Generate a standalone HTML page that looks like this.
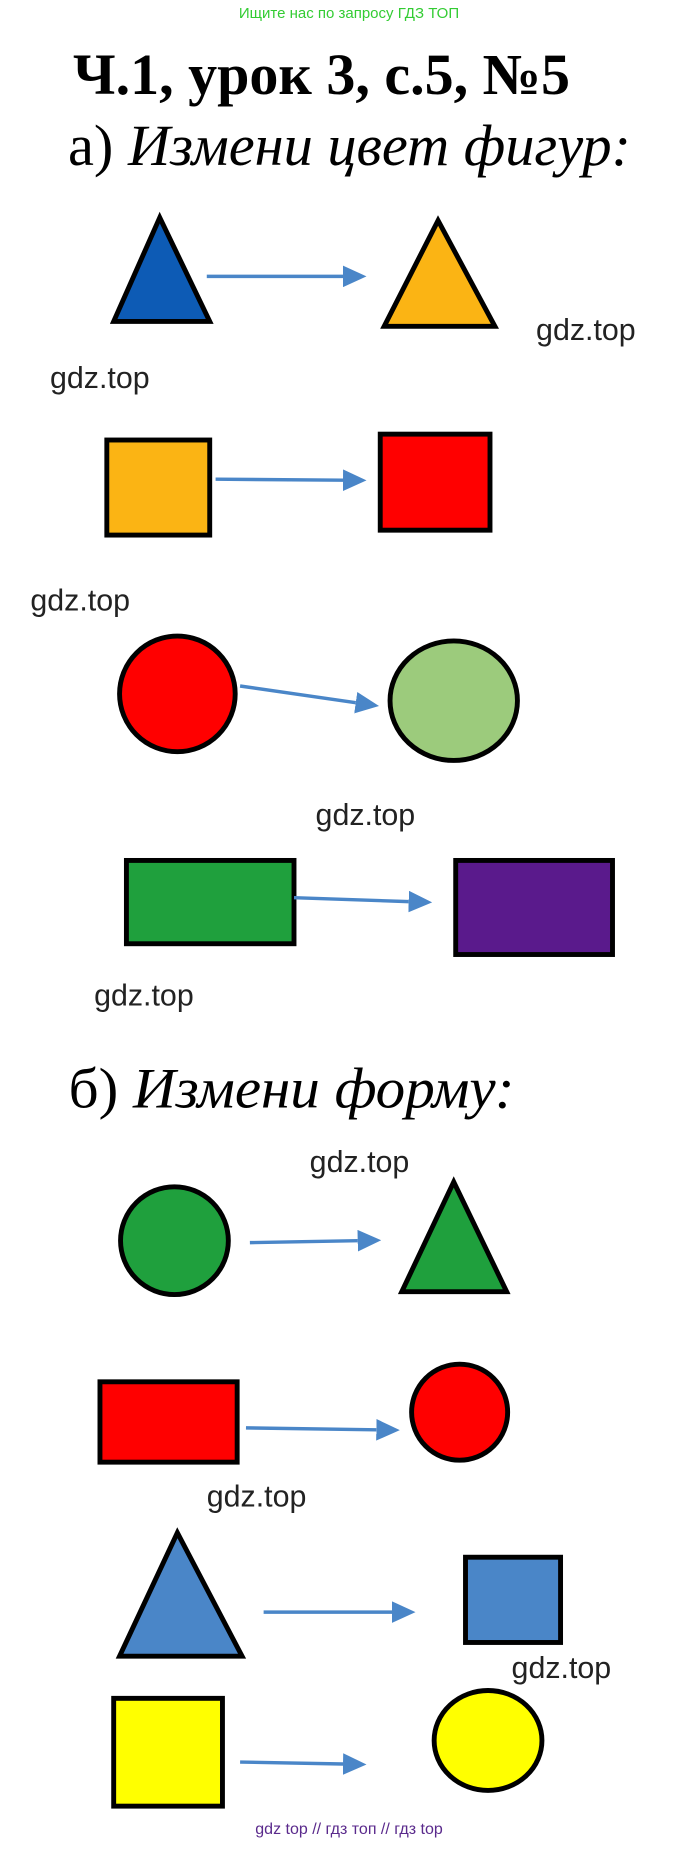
<!DOCTYPE html>
<html><head><meta charset="utf-8"><style>
html,body{margin:0;padding:0;background:#fff;width:698px;height:1875px;overflow:hidden}
svg{display:block}
.g{font-family:"Liberation Sans",sans-serif;font-size:31px;fill:#222}
</style></head><body>
<svg width="698" height="1875" viewBox="0 0 698 1875" xmlns="http://www.w3.org/2000/svg">
<defs>
<marker id="ah" markerWidth="24" markerHeight="22" refX="0" refY="11" orient="auto" markerUnits="userSpaceOnUse" viewBox="0 0 24 22">
<path d="M0,0 L24,11 L0,22z" fill="#4a86c8"/>
</marker>
</defs>
<text x="349" y="18" text-anchor="middle" font-family="Liberation Sans, sans-serif" font-size="15" fill="#33cc33">Ищите нас по запросу ГДЗ ТОП</text>
<text x="73" y="94" font-family="Liberation Serif, serif" font-weight="bold" font-size="58" textLength="497" lengthAdjust="spacingAndGlyphs">Ч.1, урок 3, с.5, №5</text>
<text x="68" y="165" font-family="Liberation Serif, serif" font-size="58" textLength="563" lengthAdjust="spacingAndGlyphs">а) <tspan font-style="italic">Измени цвет фигур:</tspan></text>

<g transform="scale(0.98)">
<g stroke="#000" stroke-width="5" stroke-linejoin="miter">
<polygon points="163,222 116,328 214,328" fill="#0d5bb5"/>
<polygon points="447,225 392,333 505,333" fill="#fbb414"/>
<rect x="109" y="449" width="105" height="97" fill="#fbb414"/>
<rect x="388" y="443" width="112" height="98" fill="#ff0000"/>
<circle cx="181" cy="708" r="59" fill="#ff0000"/>
<ellipse cx="463" cy="715" rx="65" ry="61" fill="#9ccb7c"/>
<rect x="129" y="878" width="171" height="85" fill="#1fa03d"/>
<rect x="465" y="878" width="160" height="96" fill="#5a1a8c"/>
<circle cx="178" cy="1266" r="55" fill="#1fa03d"/>
<polygon points="463,1206 410,1318 517,1318" fill="#1fa03d"/>
<rect x="102" y="1410" width="140" height="82" fill="#ff0000"/>
<circle cx="469" cy="1441" r="49" fill="#ff0000"/>
<polygon points="181,1564 122,1690 247,1690" fill="#4a86c8"/>
<rect x="475" y="1589" width="97" height="87" fill="#4a86c8"/>
<rect x="116" y="1733" width="111" height="110" fill="#ffff00"/>
<ellipse cx="498" cy="1776" rx="55" ry="51" fill="#ffff00"/>
</g>

<g stroke="#4a86c8" stroke-width="3.5" marker-end="url(#ah)">
<line x1="211" y1="282" x2="350" y2="282"/>
<line x1="220" y1="489" x2="350" y2="490"/>
<line x1="245" y1="700" x2="363" y2="717"/>
<line x1="300" y1="916" x2="417" y2="920"/>
<line x1="255" y1="1268" x2="365" y2="1266"/>
<line x1="251" y1="1457" x2="384" y2="1459"/>
<line x1="269" y1="1645" x2="400" y2="1645"/>
<line x1="245" y1="1798" x2="350" y2="1800"/>
</g>

<text x="70" y="1130" font-family="Liberation Serif, serif" font-size="58" textLength="455" lengthAdjust="spacingAndGlyphs">б) <tspan font-style="italic">Измени форму:</tspan></text>

<text class="g" x="547" y="347">gdz.top</text>
<text class="g" x="51" y="396">gdz.top</text>
<text class="g" x="31" y="623">gdz.top</text>
<text class="g" x="322" y="842">gdz.top</text>
<text class="g" x="96" y="1026">gdz.top</text>
<text class="g" x="316" y="1196">gdz.top</text>
<text class="g" x="211" y="1537">gdz.top</text>
<text class="g" x="522" y="1712">gdz.top</text>
</g>
<text x="349" y="1834" text-anchor="middle" font-family="Liberation Sans, sans-serif" font-size="16" fill="#5a2a8c">gdz top  //  гдз топ  //  гдз top</text>
</svg>
</body></html>
